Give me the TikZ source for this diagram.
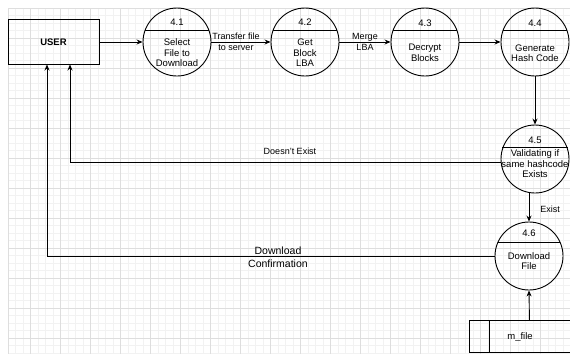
\documentclass[tikz,border=0pt]{standalone}
\usepackage{fontspec}
\setmainfont{Liberation Sans}
\usetikzlibrary{arrows.meta,calc}
\begin{document}
\begin{tikzpicture}[x=1pt,y=-1pt,
  minorg/.style={draw=black!5,line width=0.4pt},
  majorg/.style={draw=black!13,line width=0.5pt},
  ln/.style={line width=0.9pt,draw=black},
  proc/.style={circle,draw=black,line width=0.9pt,minimum size=68pt,inner sep=0pt},
  userbox/.style={draw=black,line width=0.9pt,minimum width=91pt,minimum height=45pt,inner sep=0pt,font=\bfseries\fontsize{9.5}{11}\selectfont},
  store/.style={draw=black,line width=0.9pt,minimum width=120pt,minimum height=32pt,inner sep=0pt},
  arr/.style={-{Stealth[length=6pt,width=5pt]},line width=0.9pt,draw=black},
  lbl/.style={font=\fontsize{9}{11}\selectfont,align=center,inner sep=0pt},
  biglbl/.style={font=\fontsize{10.5}{12.5}\selectfont,align=center,inner sep=0pt},
  ptxt/.style={font=\fontsize{9.5}{10.5}\selectfont,align=center,inner sep=0pt},
  num/.style={font=\fontsize{9.5}{11}\selectfont,inner sep=0pt}]
\useasboundingbox (0,0) rectangle (570,354);
\clip (0,0) rectangle (570,354);
\fill[white] (0,0) rectangle (570,354);
% grid
\foreach \x in {8,15.5,...,570} \draw[minorg] (\x,8) -- (\x,354);
\foreach \y in {8,15.5,...,354} \draw[minorg] (8,\y) -- (570,\y);
\foreach \x in {30,60,...,570} \draw[majorg] (\x,8) -- (\x,354);
\foreach \y in {38,68,...,354} \draw[majorg] (8,\y) -- (570,\y);
\draw[majorg] (8,8) -- (570,8);
\draw[majorg] (8,8) -- (8,354);

% nodes
\node[userbox] (user) at (53.5,42) {USER};

\node[proc] (p1) at (177,42) {};
\draw[ln] (p1.160) -- (p1.20);
\node[num] (n1) at (177,22) {4.1};
\node[ptxt] (t1) at (177,53) {Select\\File to\\Download};

\node[proc] (p2) at (305,42) {};
\draw[ln] (p2.160) -- (p2.20);
\node[num] (n2) at (305,22) {4.2};
\node[ptxt] (t2) at (305,53) {Get\\Block\\LBA};

\node[proc] (p3) at (425,42) {};
\draw[ln] (p3.160) -- (p3.20);
\node[num] (n3) at (425,23.5) {4.3};
\node[ptxt] (t3) at (425,53) {Decrypt\\Blocks};

\node[proc] (p4) at (535,42) {};
\draw[ln] (p4.160) -- (p4.20);
\node[num] (n4) at (535,23.5) {4.4};
\node[ptxt] (t4) at (535,53) {Generate\\Hash Code};

\node[proc] (p5) at (535,159) {};
\draw[ln] (p5.161) -- (p5.19);
\node[num] (n5) at (535,140) {4.5};
\node[ptxt] (t5) at (535,164) {Validating if\\same hashcode\\Exists};

\node[proc] (p6) at (529,256) {};
\draw[ln] (p6.156) -- (p6.24);
\node[num] (n6) at (529,233) {4.6};
\node[ptxt] (t6) at (529,261) {Download\\File};

\node[store,anchor=north west] (mfile) at (469,320) {};
\draw[ln] ($(mfile.north west)+(20,0)$) -- ($(mfile.south west)+(20,0)$);
\node[ptxt] (tm) at (520,337) {m\_file};

\coordinate (u1) at (47,64.5);
\coordinate (u2) at (70,64.5);

% connectors
\draw[arr] (user.east) -- (p1.west);
\draw[arr] (p1.east) -- (p2.west);
\draw[arr] (p2.east) -- (p3.west);
\draw[arr] (p3.east) -- (p4.west);
\draw[arr] (p4.south) -- (p5.north);
\draw[arr] (p5.south -| p6.north) -- (p6.north);
\draw[arr] (mfile.north) -- (p6.south);
\draw[arr] (p5.185) -| (u2);
\draw[arr] (p6.west) -| (u1);

% labels
\node[lbl] (l1) at (236,42) {Transfer file\\to server};
\node[lbl] (l2) at (365,42) {Merge\\LBA};
\node[lbl] (l3) at (290,151) {Doesn't Exist};
\node[lbl] (l4) at (550,209) {Exist};
\node[biglbl] (l5) at (278,257) {Download\\Confirmation};
\end{tikzpicture}
\end{document}
